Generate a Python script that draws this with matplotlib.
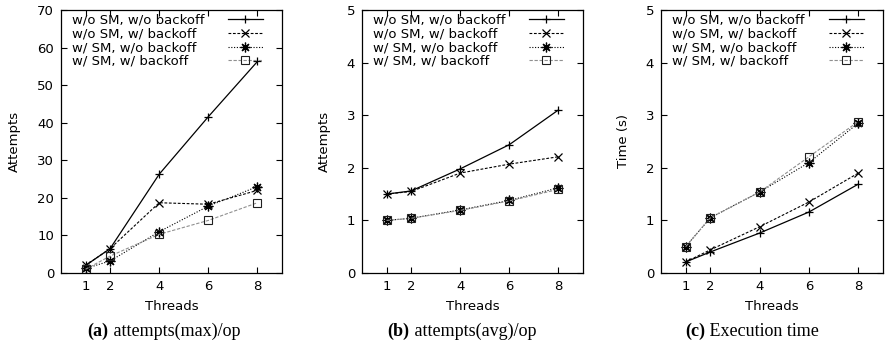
import matplotlib
matplotlib.use("Agg")
import matplotlib.pyplot as plt
from matplotlib.offsetbox import TextArea, HPacker, AnchoredOffsetbox

threads = [1, 2, 4, 6, 8]
labels = ["w/o SM, w/o backoff", "w/o SM, w/ backoff", "w/ SM, w/o backoff", "w/ SM, w/ backoff"]

max_attempts = [
    [2.0, 6.5, 26.3, 41.6, 56.3],
    [2.0, 6.5, 18.7, 18.3, 22.0],
    [1.2, 3.2, 11.0, 17.8, 23.0],
    [1.0, 4.5, 10.3, 14.0, 18.7],
]
avg_attempts = [
    [1.50, 1.56, 1.98, 2.44, 3.10],
    [1.50, 1.55, 1.90, 2.07, 2.21],
    [1.00, 1.04, 1.20, 1.38, 1.62],
    [1.00, 1.04, 1.19, 1.37, 1.59],
]
exec_time = [
    [0.21, 0.40, 0.76, 1.16, 1.69],
    [0.21, 0.44, 0.88, 1.35, 1.90],
    [0.50, 1.05, 1.54, 2.10, 2.85],
    [0.50, 1.05, 1.54, 2.21, 2.88],
]
y_labels = ["Attempts", "Attempts", "Time (s)"]
y_limits = [70, 5, 5]
y_steps = [10, 1, 1]
captions = [("(a)", " attempts(max)/op"), ("(b)", " attempts(avg)/op"), ("(c)", " Execution time")]

styles = [
    dict(color="black", linestyle="-", linewidth=0.9, marker="+", markersize=6, markeredgewidth=0.9),
    dict(color="black", linestyle=(0, (2.5, 1.5)), linewidth=0.8, marker="x", markersize=5.5, markeredgewidth=0.9),
    dict(color="black", linestyle=(0, (1, 1.5)), linewidth=0.8, marker=(8, 2, 0), markersize=7, markeredgewidth=0.9),
    dict(color="#909090", linestyle=(0, (3, 1.5)), linewidth=0.8, marker="s", markersize=6,
         markerfacecolor="none", markeredgecolor="#202020", markeredgewidth=0.8),
]

W, H = 885, 356
fig = plt.figure(figsize=(W / 100, H / 100), dpi=100)
plt.rcParams["font.family"] = ["DejaVu Sans"]

lefts = [61, 362, 661]
widths = [221, 221, 222]
top, bottom = 10, 273
cap_centers = [164, 462, 752]
ylabelpads = [12, 11, 11]
datasets = [max_attempts, avg_attempts, exec_time]

for i in range(3):
    ax = fig.add_axes([lefts[i] / W, (H - bottom) / H, widths[i] / W, (bottom - top) / H])
    lines = []
    for s in range(4):
        ln, = ax.plot(threads, datasets[i][s], label=labels[s], **styles[s])
        lines.append(ln)
    ax.set_xlim(0, 9)
    ax.set_ylim(0, y_limits[i])
    ax.set_xticks(threads)
    ax.set_yticks([k * y_steps[i] for k in range(int(y_limits[i] / y_steps[i]) + 1)])
    ax.tick_params(direction="in", top=True, right=True, labelsize=9.5, length=4, width=0.8, pad=5)
    for sp in ax.spines.values():
        sp.set_linewidth(0.9)
    ax.set_xlabel("Threads", fontsize=9.5, labelpad=5)
    ax.set_ylabel(y_labels[i], fontsize=9.5, labelpad=ylabelpads[i])

    # key text (left aligned)
    leg1 = ax.legend(lines, labels, loc="upper left", frameon=False, fontsize=9.5,
                     handlelength=0, handletextpad=0, labelspacing=0.05,
                     borderaxespad=0.1, borderpad=0.2, bbox_to_anchor=(0.03, 1.0))
    for h in leg1.legend_handles:
        h.set_visible(False)
    ax.add_artist(leg1)
    # key samples (right)
    ax.legend(lines, [""] * 4, loc="upper right", frameon=False, fontsize=9.5,
              handlelength=2.6, handletextpad=0, labelspacing=0.05,
              borderaxespad=0.1, borderpad=0.2, bbox_to_anchor=(0.93, 1.0))

    b, t = captions[i]
    ta1 = TextArea(b, textprops=dict(family="Liberation Serif", fontsize=13, fontweight="bold"))
    ta2 = TextArea(t, textprops=dict(family="Liberation Serif", fontsize=13))
    pack = HPacker(children=[ta1, ta2], align="baseline", pad=0, sep=0)
    ab = AnchoredOffsetbox(loc="center", child=pack, frameon=False,
                           bbox_to_anchor=(cap_centers[i] / W, (H - 331) / H),
                           bbox_transform=fig.transFigure, borderpad=0, pad=0)
    fig.add_artist(ab)

fig.savefig("out.png", dpi=100)
